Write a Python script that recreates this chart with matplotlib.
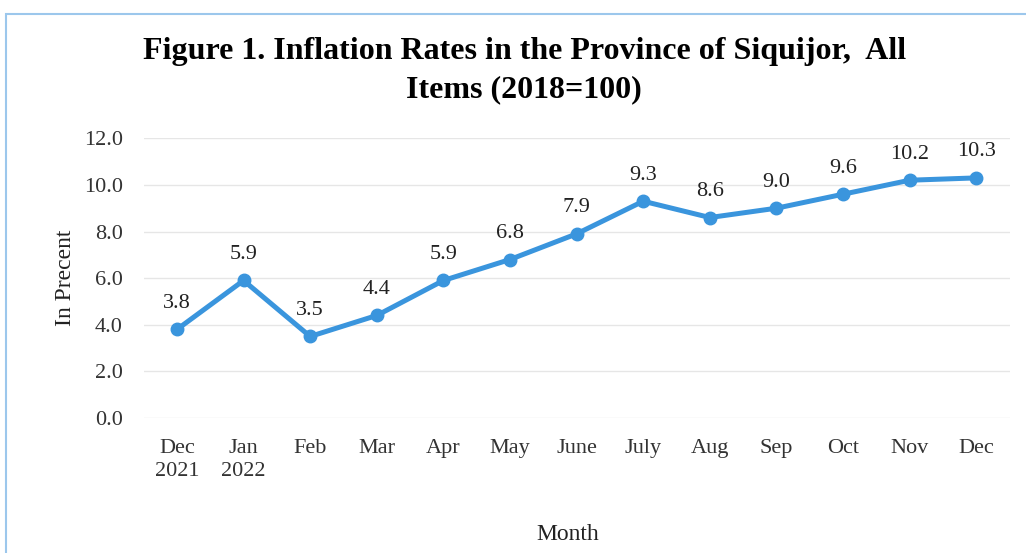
import matplotlib.pyplot as plt
from matplotlib.patches import Rectangle

# Data
months = ['Dec\n2021', 'Jan\n2022', 'Feb', 'Mar', 'Apr', 'May', 'June',
          'July', 'Aug', 'Sep', 'Oct', 'Nov', 'Dec']
rates = [3.8, 5.9, 3.5, 4.4, 5.9, 6.8, 7.9, 9.3, 8.6, 9.0, 9.6, 10.2, 10.3]
y_ticks = [0.0, 2.0, 4.0, 6.0, 8.0, 10.0, 12.0]

plt.rcParams['font.family'] = ['Liberation Serif', 'DejaVu Serif']

fig = plt.figure(figsize=(10.26, 5.53), dpi=100)
ax = fig.add_axes([0.140, 0.244, 0.844, 0.506])

x = range(len(months))
ax.plot(x, rates, color='#3a95dd', linewidth=3.6, marker='o',
        markersize=9, solid_capstyle='round')
for i, v in enumerate(rates):
    ax.annotate(f'{v:.1f}', (i, v), textcoords='offset points',
                xytext=(0, 12), ha='center', va='bottom', fontsize=16,
                color='#222222')

ax.set_xlim(-0.5, len(months) - 0.5)
ax.set_ylim(0, 12)
ax.set_yticks(y_ticks)
ax.set_yticklabels([f'{t:.1f}' for t in y_ticks], fontsize=16, color='#333333')
ax.set_xticks(list(x))
ax.set_xticklabels(months, fontsize=16, color='#333333', linespacing=1.3)
ax.tick_params(axis='y', length=0, pad=15)
ax.tick_params(axis='x', length=0, pad=15)
ax.grid(axis='y', color='#e6e6e6', linewidth=1)
ax.set_axisbelow(True)
for s in ax.spines.values():
    s.set_visible(False)

ax.set_ylabel('In Precent', fontsize=17, color='#222222')
ax.yaxis.set_label_coords(-0.078, 0.5)
fig.text(0.553, 0.034, 'Month', fontsize=17, color='#222222', ha='center',
         va='center')

fig.text(0.511, 0.906, 'Figure 1. Inflation Rates in the Province of Siquijor,  All',
         fontsize=23, fontweight='bold', ha='center', va='center')
fig.text(0.511, 0.837, 'Items (2018=100)',
         fontsize=23, fontweight='bold', ha='center', va='center')

# light blue frame
fig.patches.append(Rectangle((0.006, -0.05), 1.1, 1.025,
                             transform=fig.transFigure, fill=False,
                             edgecolor='#9cc7ec', linewidth=1.5))

fig.savefig('out.png', dpi=100)
